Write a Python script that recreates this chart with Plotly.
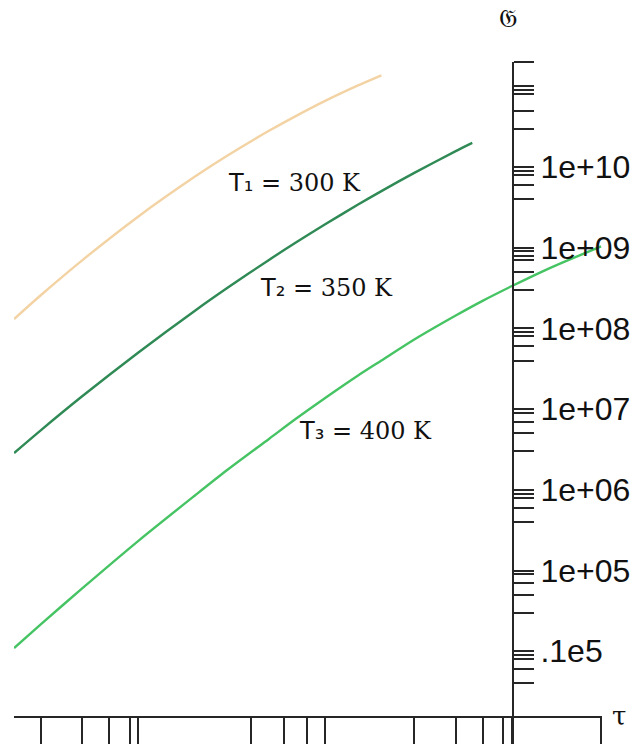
import math
import plotly.graph_objects as go

# Relaxation time tau and quantity G for three temperatures
tau_300 = [0.0216, 0.03, 0.05, 0.1, 0.2, 0.3, 0.5, 0.7, 1.0, 1.5, 2.0]
g_300 = [1.308e8, 2.579e8, 6.98e8, 2.443e9, 7.56e9, 1.388e10, 2.81e10, 4.31e10,
         6.60e10, 1.026e11, 1.369e11]

tau_350 = [0.0216, 0.03, 0.05, 0.1, 0.2, 0.3, 0.5, 0.7, 1.0, 1.5, 2.0, 3.0, 5.0, 6.13]
g_350 = [2.858e6, 5.46e6, 1.441e7, 5.04e7, 1.648e8, 3.185e8, 7.06e8, 1.166e9,
         1.950e9, 3.43e9, 5.03e9, 8.45e9, 1.574e10, 1.989e10]

tau_400 = [0.0216, 0.03, 0.05, 0.1, 0.2, 0.3, 0.5, 0.7, 1.0, 1.5, 2.0, 3.0, 5.0, 7.0,
           10.0, 15.0, 20.0, 30.0]
g_400 = [1.0955e4, 2.148e4, 6.00e4, 2.333e5, 8.45e5, 1.770e6, 4.27e6, 7.63e6,
         1.373e7, 2.609e7, 4.00e7, 7.29e7, 1.445e8, 2.211e8, 3.353e8, 5.25e8,
         7.02e8, 1.038e9]

series_symbols = ["T₁", "T₂", "T₃"]
series_temps = ["300 K", "350 K", "400 K"]
series_colors = ["#f3d3a3", "#2f8a55", "#46c464"]

# Axis ticks
x_tickvals = [0.03, 0.05, 0.07, 0.09, 0.1, 0.4, 0.6, 0.8, 1, 3, 5, 7, 9, 10, 30]
y_major_vals = [1e4, 1e5, 1e6, 1e7, 1e8, 1e9, 1e10]
y_major_text = [".1e5", "1e+05", "1e+06", "1e+07", "1e+08", "1e+09", "1e+10"]
# unlabelled ticks: multiples of each decade that carry a tick
y_minor_by_decade = {
    11: [2.0, 1.0, 0.9, 0.8, 0.5, 0.3],
    10: [0.9, 0.8, 0.6, 0.4],
    9: [0.9, 0.8, 0.7, 0.5, 0.3],
    8: [0.9, 0.8, 0.6, 0.4],
    7: [0.9, 0.7, 0.5, 0.3],
    6: [0.9, 0.8, 0.6, 0.4],
    5: [0.9, 0.7, 0.5, 0.3],
    4: [0.9, 0.8, 0.6, 0.4],
}
y_minor_vals = [m * 10.0 ** d for d, ms in y_minor_by_decade.items() for m in ms]

W, H = 638, 744
AX = "#262626"

fig = go.Figure()
for (tx, gy), sym, temp, col in zip([(tau_300, g_300), (tau_350, g_350), (tau_400, g_400)],
                                    series_symbols, series_temps, series_colors):
    fig.add_trace(go.Scatter(x=tx, y=gy, mode="lines", name=f"{sym} = {temp}",
                             line=dict(color=col, width=2.4, shape="spline", smoothing=0.8),
                             showlegend=False))

fig.update_layout(
    width=W, height=H,
    margin=dict(l=0, r=0, t=0, b=0),
    paper_bgcolor="white", plot_bgcolor="white",
    xaxis=dict(type="log", domain=[14 / W, 602 / W], range=[-1.666, 1.482],
               anchor="free", position=(H - 717) / H,
               showgrid=False, zeroline=False,
               showline=True, linecolor=AX, linewidth=2,
               ticks="outside", ticklen=28, tickwidth=2, tickcolor=AX,
               tickmode="array", tickvals=x_tickvals, showticklabels=False),
    yaxis=dict(type="log", domain=[0, (H - 62) / H],
               range=[2.850, math.log10(2e11) + 0.0005],
               anchor="free", position=513 / W, side="right",
               showgrid=False, zeroline=False,
               showline=True, linecolor=AX, linewidth=2,
               ticks="outside", ticklen=20, tickwidth=2, tickcolor=AX,
               tickmode="array", tickvals=y_major_vals, ticktext=y_major_text,
               minor=dict(tickmode="array", tickvals=y_minor_vals, ticks="outside",
                          ticklen=20, tickwidth=2, tickcolor=AX, showgrid=False),
               tickfont=dict(family="Liberation Sans, Arial, sans-serif", size=32, color="#111")),
)

label_font = dict(family="DejaVu Serif, serif", size=24, color="#111")
label_pos = [(294, 183), (327, 288), (365, 431)]
for sym, temp, (px, py) in zip(series_symbols, series_temps, label_pos):
    txt = f'<span style="font-family:DejaVu Sans">{sym}</span> = {temp}'
    fig.add_annotation(x=px / W, y=1 - py / H, xref="paper", yref="paper",
                       text=txt, showarrow=False, font=label_font,
                       xanchor="center", yanchor="middle")

# Axis titles
fig.add_annotation(x=508 / W, y=1 - 18 / H, xref="paper", yref="paper",
                   text="\U0001D50A", showarrow=False,
                   font=dict(family="DejaVu Serif, serif", size=26, color="#111"),
                   xanchor="center", yanchor="middle")
fig.add_annotation(x=619 / W, y=1 - 716 / H, xref="paper", yref="paper",
                   text="τ", showarrow=False,
                   font=dict(family="DejaVu Serif, serif", size=26, color="#111"),
                   xanchor="center", yanchor="middle")

fig.write_html("out.html")
